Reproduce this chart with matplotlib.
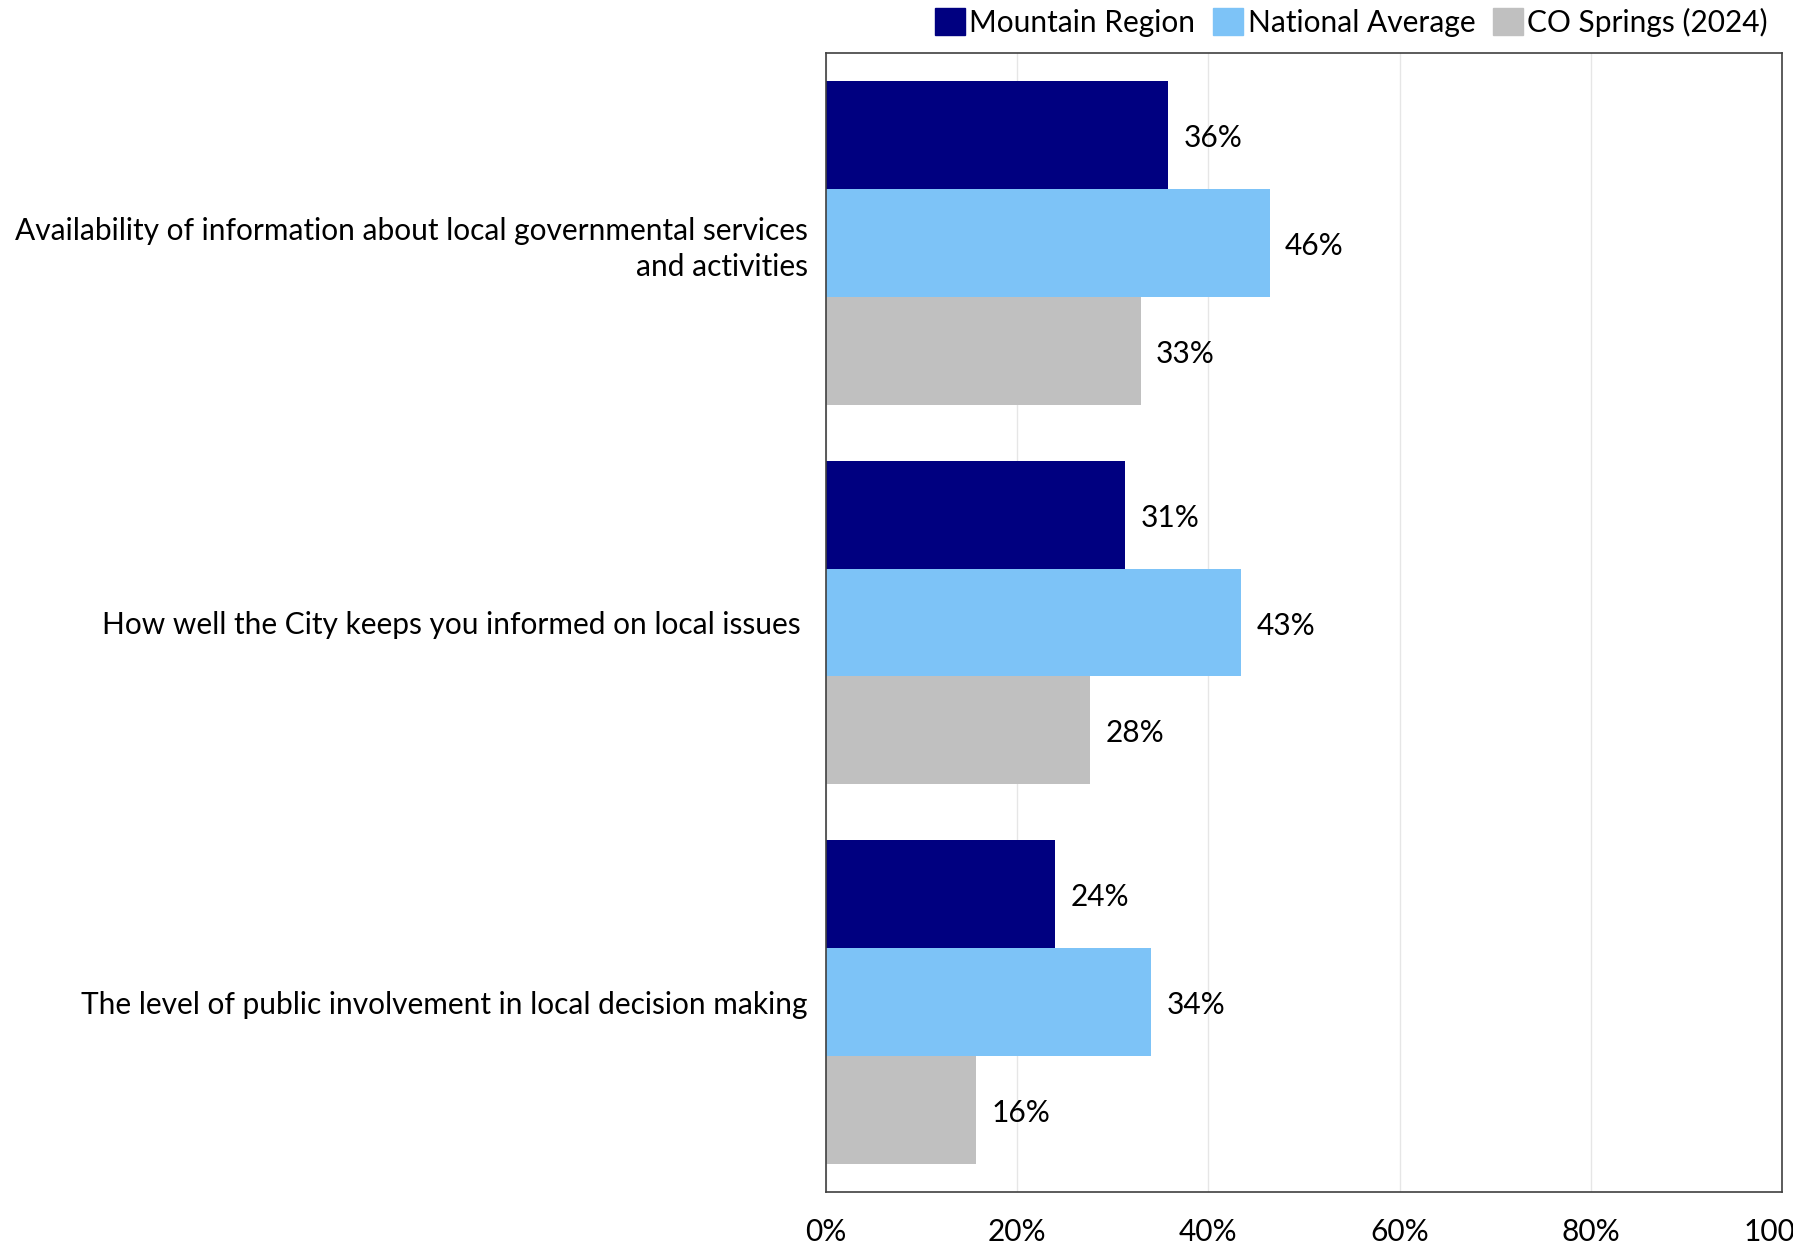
import matplotlib
matplotlib.use("Agg")
import matplotlib.pyplot as plt
import numpy as np
from matplotlib.patches import Patch

plt.rcParams["font.family"] = ["Lato", "DejaVu Sans"]

categories = [
    "Availability of information about local governmental services\nand activities",
    "How well the City keeps you informed on local issues ",
    "The level of public involvement in local decision making",
]
series_names = ["Mountain Region", "National Average", "CO Springs (2024)"]
mountain = [0.358, 0.313, 0.240]
national = [0.464, 0.434, 0.340]
springs = [0.329, 0.276, 0.157]
colors = ["#000080", "#7DC3F7", "#C0C0C0"]

fig = plt.figure(figsize=(17.93, 12.45), dpi=100)
ax = fig.add_axes([826 / 1793, 1 - 1192 / 1245, (1782 - 826) / 1793, (1192 - 53) / 1245])

y = np.arange(len(categories))
h = 0.284
fs = 21.5

# three bars per category, first series on top
for i, (vals, col) in enumerate(zip([mountain, national, springs], colors)):
    pos = y + (i - 1) * h
    ax.barh(pos, vals, height=h, color=col, zorder=2)
    for p, v in zip(pos, vals):
        ax.text(v + 0.016, p + 0.008, f"{v:.0%}", va="center", ha="left", fontsize=fs)

ax.set_xlim(0, 1)
ax.set_ylim(len(categories) - 0.5, -0.5)
ticks = np.arange(0, 1.01, 0.2)
ax.set_xticks(ticks)
ax.set_xticklabels([f"{t:.0%}" for t in ticks], fontsize=fs)
ax.tick_params(axis="x", length=0, pad=19)
ax.set_yticks(y)
ax.set_yticklabels(categories, fontsize=fs, ha="right", multialignment="right",
                   linespacing=1.35)
ax.tick_params(axis="y", length=0, pad=13)
ax.grid(axis="x", color="#E6E6E6", linewidth=1, zorder=0)
for s in ax.spines.values():
    s.set_color("#404040")
    s.set_linewidth(1.2)

handles = [Patch(color=c) for c in colors]
fig.legend(handles, series_names, loc="upper right", bbox_to_anchor=(1786 / 1793, 1.008),
           ncol=3, frameon=False, fontsize=fs, handlelength=1.0, handleheight=1.0,
           handletextpad=0.15, columnspacing=0.6, borderaxespad=0.2)

fig.savefig("out.png", dpi=100)
